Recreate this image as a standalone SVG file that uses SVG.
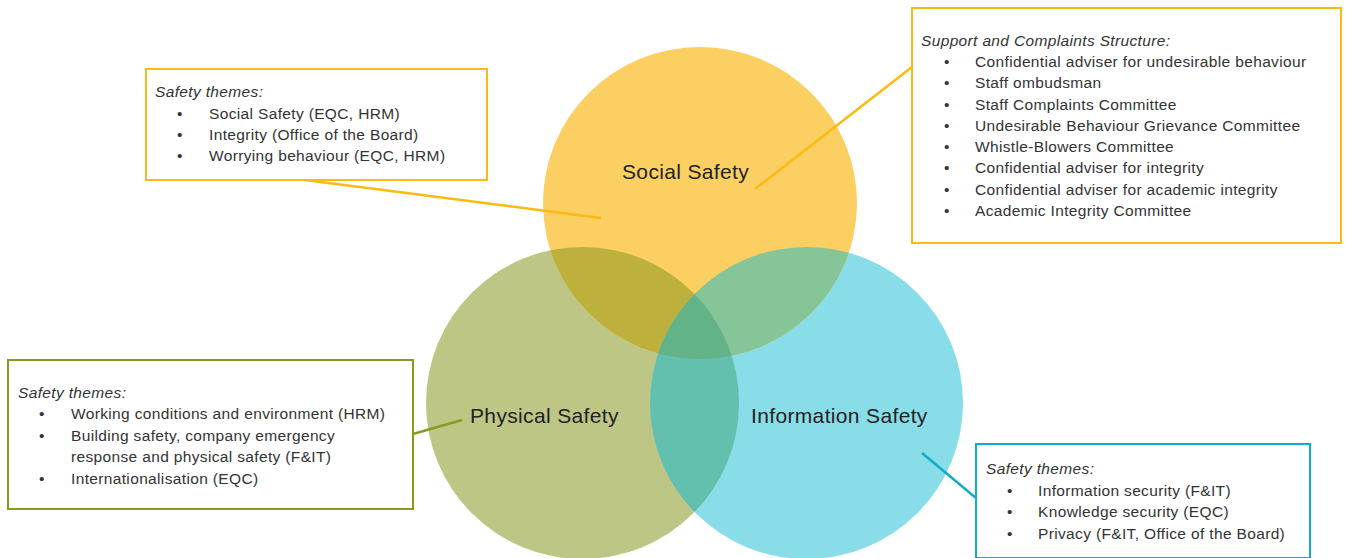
<svg xmlns="http://www.w3.org/2000/svg" width="1346" height="558" viewBox="0 0 1346 558">
<style>
  .lbl { font-family: "Liberation Sans", Arial, sans-serif; font-size: 21px; letter-spacing: 0.35px; fill: #222; }
  .t { font-family: "Liberation Sans", Arial, sans-serif; font-size: 15.5px; letter-spacing: 0.35px; fill: #333; }
  .hd { font-style: italic; }
  .box { fill: #fff; stroke-width: 2; }
  .yel { stroke: #FBBA13; }
  .olv { stroke: #8A9A1E; }
  .cyn { stroke: #13ABC8; }
  .con { fill: none; stroke-width: 2.5; }
</style>
<defs>
  <clipPath id="cY"><ellipse cx="700" cy="203" rx="157" ry="156"/></clipPath>
  <clipPath id="cG"><ellipse cx="582.5" cy="403" rx="156.5" ry="156"/></clipPath>
  <clipPath id="cC"><ellipse cx="806.5" cy="403" rx="156.5" ry="156"/></clipPath>
</defs>
<rect width="1346" height="558" fill="#fff"/>
<g id="physical-safety">
  <ellipse cx="582.5" cy="403" rx="156.5" ry="156" fill="#BEC685"/>
</g>
<g id="information-safety">
  <ellipse cx="806.5" cy="403" rx="156.5" ry="156" fill="#88DDE8"/>
</g>
<g id="social-safety">
  <ellipse cx="700" cy="203" rx="157" ry="156" fill="#FCCF63"/>
</g>
<g id="overlaps">
  <ellipse cx="700" cy="203" rx="157" ry="156" fill="#BDB03C" clip-path="url(#cG)"/>
  <ellipse cx="700" cy="203" rx="157" ry="156" fill="#85C597" clip-path="url(#cC)"/>
  <ellipse cx="582.5" cy="403" rx="156.5" ry="156" fill="#64C0AE" clip-path="url(#cC)"/>
  <g clip-path="url(#cG)">
    <ellipse cx="700" cy="203" rx="157" ry="156" fill="#63B388" clip-path="url(#cC)"/>
  </g>
</g>
<g id="circle-labels">
  <text class="lbl" x="622" y="179">Social Safety</text>
  <text class="lbl" x="470" y="423">Physical Safety</text>
  <text class="lbl" x="751" y="423">Information Safety</text>
</g>
<g id="connectors">
  <line class="con yel" x1="305" y1="180" x2="601" y2="218"/>
  <line class="con yel" x1="912" y1="67" x2="755" y2="189"/>
  <line class="con olv" x1="413" y1="434" x2="462" y2="420"/>
  <line class="con cyn" x1="922" y1="453" x2="976" y2="498"/>
</g>
<g id="box-social-themes">
  <rect class="box yel" x="146" y="69" width="341" height="111"/>
  <text class="t hd" x="155" y="97">Safety themes:</text>
  <text class="t" x="177" y="119">•</text><text class="t" x="209" y="119">Social Safety (EQC, HRM)</text>
  <text class="t" x="177" y="140">•</text><text class="t" x="209" y="140">Integrity (Office of the Board)</text>
  <text class="t" x="177" y="161">•</text><text class="t" x="209" y="161">Worrying behaviour (EQC, HRM)</text>
</g>
<g id="box-support">
  <rect class="box yel" x="912" y="8" width="429" height="235"/>
  <text class="t hd" x="921" y="46">Support and Complaints Structure:</text>
  <text class="t" x="944" y="67">•</text><text class="t" x="975" y="67">Confidential adviser for undesirable behaviour</text>
  <text class="t" x="944" y="88">•</text><text class="t" x="975" y="88">Staff ombudsman</text>
  <text class="t" x="944" y="109.5">•</text><text class="t" x="975" y="109.5">Staff Complaints Committee</text>
  <text class="t" x="944" y="131">•</text><text class="t" x="975" y="131">Undesirable Behaviour Grievance Committee</text>
  <text class="t" x="944" y="152">•</text><text class="t" x="975" y="152">Whistle-Blowers Committee</text>
  <text class="t" x="944" y="173">•</text><text class="t" x="975" y="173">Confidential adviser for integrity</text>
  <text class="t" x="944" y="194.5">•</text><text class="t" x="975" y="194.5">Confidential adviser for academic integrity</text>
  <text class="t" x="944" y="216">•</text><text class="t" x="975" y="216">Academic Integrity Committee</text>
</g>
<g id="box-physical-themes">
  <rect class="box olv" x="8" y="360" width="405" height="149"/>
  <text class="t hd" x="18" y="398">Safety themes:</text>
  <text class="t" x="39" y="419">•</text><text class="t" x="71" y="419">Working conditions and environment (HRM)</text>
  <text class="t" x="39" y="441">•</text><text class="t" x="71" y="441">Building safety, company emergency</text>
  <text class="t" x="71" y="462">response and physical safety (F&amp;IT)</text>
  <text class="t" x="39" y="484">•</text><text class="t" x="71" y="484">Internationalisation (EQC)</text>
</g>
<g id="box-information-themes">
  <rect class="box cyn" x="976" y="444" width="334" height="114"/>
  <text class="t hd" x="986" y="474">Safety themes:</text>
  <text class="t" x="1007" y="496">•</text><text class="t" x="1038" y="496">Information security (F&amp;IT)</text>
  <text class="t" x="1007" y="517">•</text><text class="t" x="1038" y="517">Knowledge security (EQC)</text>
  <text class="t" x="1007" y="539">•</text><text class="t" x="1038" y="539">Privacy (F&amp;IT, Office of the Board)</text>
</g>
</svg>
